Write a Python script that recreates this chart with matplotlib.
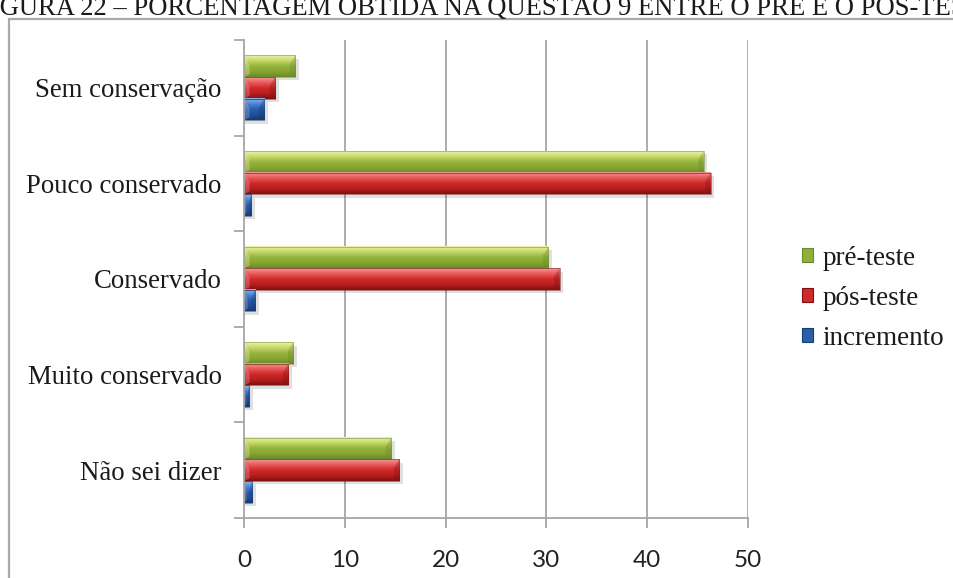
import numpy as np
import matplotlib
matplotlib.use("Agg")
import matplotlib.pyplot as plt
from matplotlib.patches import Rectangle, Polygon
from matplotlib.colors import LinearSegmentedColormap

# Data (percent)
categories = ["Não sei dizer", "Muito conservado", "Conservado",
              "Pouco conservado", "Sem conservação"]
pre_teste = [14.6, 4.9, 30.2, 45.6, 5.1]
pos_teste = [15.4, 4.4, 31.3, 46.3, 3.1]
incremento = [0.8, 0.5, 1.1, 0.7, 2.0]
x_ticks = [0, 10, 20, 30, 40, 50]
series_labels = ["pré-teste", "pós-teste", "incremento"]
title_text = "FIGURA 22 – PORCENTAGEM OBTIDA NA QUESTÃO 9 ENTRE O PRÉ E O PÓS-TESTE"

# Bevel-like gradient palettes (top -> bottom)
palettes = {
    "pré-teste": ["#eef3a8", "#c5d86a", "#94b43c", "#86a632", "#6b8a2c"],
    "pós-teste": ["#f49a9a", "#e85a5a", "#d12a2a", "#b81e1e", "#7e1212"],
    "incremento": ["#8fb8ec", "#4f86d2", "#2a5eae", "#22509a", "#173a70"],
}
base_colors = {"pré-teste": "#8fb03a", "pós-teste": "#cf2b2b", "incremento": "#2b5ea9"}

W, H = 954, 578
fig = plt.figure(figsize=(W / 100, H / 100), dpi=100)
renderer = fig.canvas.get_renderer()

# Frame around the chart area
frame = Rectangle((9 / W, -0.05), 1.2, 1 - 19 / H + 0.05, transform=fig.transFigure,
                  fill=False, edgecolor="#a9a9a9", linewidth=1.6)
fig.patches.append(frame)

# Caption line above the frame, running past the page edges:
# size it so that "GURA ... PÓS-TE" spans the page width
serif = "Liberation Serif"
probe = fig.text(0, 0, title_text[2:-3], family=serif, fontsize=10)
w10 = probe.get_window_extent(renderer).width
probe.remove()
title_size = 10 * (W + 2) / w10
probe = fig.text(0, 0, title_text[:2], family=serif, fontsize=title_size)
lead = probe.get_window_extent(renderer).width
probe.remove()
fig.text(-lead / W, 1 - 15 / H, title_text, family=serif, fontsize=title_size,
         color="#1a1a1a", ha="left", va="baseline")

ax_left, ax_right = 244 / W, 748 / W
ax_top, ax_bot = 1 - 40 / H, 1 - 518 / H
ax = fig.add_axes([ax_left, ax_bot, ax_right - ax_left, ax_top - ax_bot])

n = len(categories)
y = np.arange(n)
h = 0.226
offsets = {"pré-teste": h, "pós-teste": 0.0, "incremento": -h}
values = {"pré-teste": pre_teste, "pós-teste": pos_teste, "incremento": incremento}

grid_color = "#a6a6a6"
for xv in x_ticks[1:]:
    ax.axvline(xv, color=grid_color, lw=1.3, zorder=1)


def draw_bar(ax, x1, yc, hh, name):
    y0, y1 = yc - hh / 2, yc + hh / 2
    cmap = LinearSegmentedColormap.from_list(name, palettes[name][::-1])
    grad = np.linspace(0, 1, 64).reshape(-1, 1)
    # soft drop shadow
    ax.add_patch(Rectangle((0, y0 - 0.035), x1 + 0.35, hh, facecolor="#000000",
                           alpha=0.12, lw=0, zorder=2))
    ax.imshow(grad, extent=[0, x1, y0, y1], origin="lower", aspect="auto",
              cmap=cmap, interpolation="bilinear", zorder=3)
    # bevelled end caps
    bev = min(0.55, x1 / 3)
    dy = hh * 0.42
    light = palettes[name][0]
    dark = palettes[name][-1]
    ax.add_patch(Polygon([[x1, y1], [x1, y0], [x1 - bev, y0 + dy * 0.3], [x1 - bev, y1 - dy]],
                         closed=True, facecolor=dark, alpha=0.35, lw=0, zorder=4))
    ax.add_patch(Polygon([[0, y1], [0, y0], [bev, y0 + dy * 0.3], [bev, y1 - dy]],
                         closed=True, facecolor=light, alpha=0.35, lw=0, zorder=4))
    ax.add_patch(Rectangle((0, y0), x1, hh, fill=False, edgecolor=dark,
                           lw=0.6, alpha=0.6, zorder=5))


for name in series_labels:
    for yi, v in zip(y, values[name]):
        draw_bar(ax, v, yi + offsets[name], h, name)

ax.set_xlim(0, 50)
ax.set_ylim(-0.5, n - 0.5)

for side in ("top", "right"):
    ax.spines[side].set_visible(False)
for side in ("left", "bottom"):
    ax.spines[side].set_color(grid_color)
    ax.spines[side].set_linewidth(1.3)
    ax.spines[side].set_zorder(6)

ax.set_xticks(x_ticks)
ax.set_xticklabels([str(t) for t in x_ticks], family="Lato", fontsize=17.5, color="#222222")
ax.tick_params(axis="x", direction="out", length=7, width=1.3, color=grid_color, pad=16)

ax.set_yticks(y)
ax.set_yticklabels(categories, family=serif, fontsize=19.3, color="#1a1a1a")
ax.set_yticks(np.arange(-0.5, n, 1.0), minor=True)
ax.tick_params(axis="y", which="major", length=0, pad=16)
ax.tick_params(axis="y", which="minor", direction="out", length=7, width=1.3, color=grid_color)

# Legend
handles = [Rectangle((0, 0), 1, 1, facecolor=base_colors[nm],
                     edgecolor=palettes[nm][-1], lw=0.8) for nm in series_labels]
leg = fig.legend(handles, series_labels, loc="upper left",
                 bbox_to_anchor=(802 / W, 1 - 246 / H), frameon=False,
                 prop={"family": serif, "size": 19.5},
                 handlelength=0.4, handleheight=0.4, handletextpad=0.35,
                 labelspacing=0.55, borderaxespad=0, borderpad=0)
for t in leg.get_texts():
    t.set_color("#1a1a1a")

fig.savefig("out.png", dpi=100)
